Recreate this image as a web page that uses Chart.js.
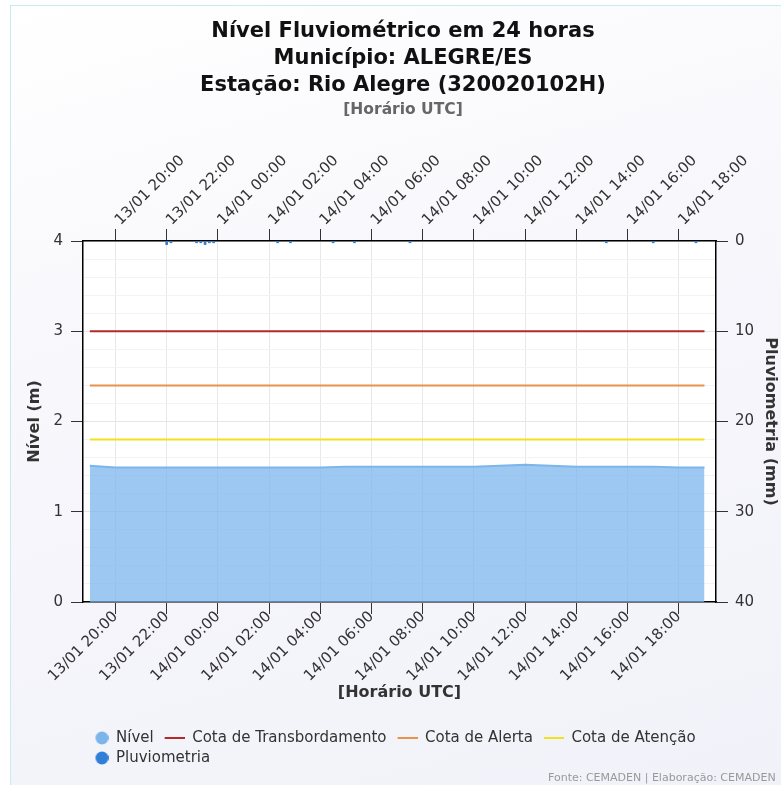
<!DOCTYPE html>
<html lang="pt-BR">
<head>
<meta charset="utf-8">
<title>Nível Fluviométrico em 24 horas</title>
<script src="https://cdn.jsdelivr.net/npm/chart.js@4.4.1/dist/chart.umd.min.js"></script>
<style>
  html, body { margin: 0; padding: 0; width: 781px; height: 785px; overflow: hidden; background: #fff; }
  #quadro {
    position: absolute; left: 10px; top: 5px; width: 784px; height: 790px;
    border-left: 1px solid #c6ecf3; border-top: 1px solid #c6ecf3;
    background: linear-gradient(165deg, #ffffff 0%, #f7f7fc 40%, #f1f1f9 100%);
  }
  #grafico { position: absolute; left: 0; top: 0; width: 784px; height: 790px; }
  #creditos {
    position: absolute; left: 537px; top: 765px; white-space: nowrap;
    font: 11px 'DejaVu Sans', sans-serif; color: #999;
  }
</style>
</head>
<body>
<div id="quadro">
  <div id="grafico"><canvas id="nivelChart"></canvas></div>
  <div id="creditos">Fonte: CEMADEN | Elaboração: CEMADEN</div>
</div>
<script>
// --- Dados (horário UTC) ---
const titulo = ['Nível Fluviométrico em 24 horas', 'Município: ALEGRE/ES', 'Estação: Rio Alegre (320020102H)'];
const subtitulo = '[Horário UTC]';

// Nível do rio (m), de hora em hora
const horasNivel = [
    '13/01 19:00', '13/01 20:00', '13/01 21:00', '13/01 22:00', '13/01 23:00',
    '14/01 00:00', '14/01 01:00', '14/01 02:00', '14/01 03:00', '14/01 04:00',
    '14/01 05:00', '14/01 06:00', '14/01 07:00', '14/01 08:00', '14/01 09:00',
    '14/01 10:00', '14/01 11:00', '14/01 12:00', '14/01 13:00', '14/01 14:00',
    '14/01 15:00', '14/01 16:00', '14/01 17:00', '14/01 18:00', '14/01 19:00'
];
const valoresNivel = [
    1.51, 1.49, 1.49, 1.49, 1.49,
    1.49, 1.49, 1.49, 1.49, 1.49,
    1.50, 1.50, 1.50, 1.50, 1.50,
    1.50, 1.51, 1.52, 1.51, 1.50,
    1.50, 1.50, 1.50, 1.49, 1.49
];

// Pluviometria (mm) - só os registros diferentes de zero
const horasChuva = [
    '13/01 22:00', '13/01 22:10', '13/01 23:10', '13/01 23:20', '13/01 23:30',
    '13/01 23:40', '13/01 23:50', '14/01 02:20', '14/01 02:50', '14/01 04:30',
    '14/01 05:20', '14/01 07:30', '14/01 15:10', '14/01 17:00', '14/01 18:40'
];
const valoresChuva = [0.4, 0.2, 0.2, 0.2, 0.4, 0.2, 0.2, 0.2, 0.2, 0.2, 0.2, 0.2, 0.2, 0.2, 0.2];

// Cotas de referência (m)
const cotaTransbordamento = 3.0;
const cotaAlerta = 2.4;
const cotaAtencao = 1.8;

// Eixos
const rotulosEixoX = [
    '13/01 20:00', '13/01 22:00', '14/01 00:00', '14/01 02:00', '14/01 04:00', '14/01 06:00',
    '14/01 08:00', '14/01 10:00', '14/01 12:00', '14/01 14:00', '14/01 16:00', '14/01 18:00'
];
const inicioEixoX = '13/01 18:44';
const fimEixoX = '14/01 19:27';
const ticksNivel = [0, 1, 2, 3, 4];
const ticksChuva = [0, 10, 20, 30, 40];

// --- Funções auxiliares ---

// Converte 'dd/mm hh:mm' em minutos contados a partir de 13/01 00:00
function paraMinutos(texto) {
    const [data, hora] = texto.split(' ');
    const dia = parseInt(data.split('/')[0], 10);
    const [h, m] = hora.split(':').map(Number);
    return (dia - 13) * 1440 + h * 60 + m;
}

function ehInteiro(v) {
    return Math.abs(v - Math.round(v)) < 1e-6;
}

// Ícones da legenda (símbolo encostado à direita da caixa)
function iconeCirculo(cor) {
    const c = document.createElement('canvas');
    c.width = 26; c.height = 14;
    const g = c.getContext('2d');
    g.fillStyle = cor;
    g.beginPath();
    g.arc(19.5, 7, 6.5, 0, Math.PI * 2);
    g.fill();
    return c;
}

function iconeLinha(cor) {
    const c = document.createElement('canvas');
    c.width = 26; c.height = 4;
    const g = c.getContext('2d');
    g.strokeStyle = cor;
    g.lineWidth = 2;
    g.beginPath();
    g.moveTo(6, 2);
    g.lineTo(26, 2);
    g.stroke();
    return c;
}

const CORES = {
    nivel: '#7cb5ec',
    nivelArea: 'rgba(124, 181, 236, 0.75)',
    transbordamento: '#b32a2a',
    alerta: '#e8924e',
    atencao: '#f0e21c',
    chuva: '#2f7ed8'
};

const icones = [
    iconeCirculo(CORES.nivel),
    iconeLinha(CORES.transbordamento),
    iconeLinha(CORES.alerta),
    iconeLinha(CORES.atencao),
    iconeCirculo(CORES.chuva)
];

// --- Montagem das séries ---
const xIni = paraMinutos(horasNivel[0]);
const xFim = paraMinutos(horasNivel[horasNivel.length - 1]);
const pontosNivel = horasNivel.map((h, i) => ({ x: paraMinutos(h), y: valoresNivel[i] }));
const pontosChuva = horasChuva.map((h, i) => ({ x: paraMinutos(h), y: valoresChuva[i] }));
const linhaCota = v => [{ x: xIni, y: v }, { x: xFim, y: v }];

// Pinta a área de plotagem de branco
const fundoBranco = {
    id: 'fundoBranco',
    beforeDraw(chart) {
        const { ctx, chartArea: a } = chart;
        ctx.save();
        ctx.fillStyle = '#ffffff';
        ctx.fillRect(a.left, a.top, a.right - a.left, a.bottom - a.top);
        ctx.restore();
    }
};

// Empurra a legenda um pouco para a esquerda (alinhamento com o original)
const ajusteLegenda = {
    id: 'ajusteLegenda',
    afterLayout(chart) {
        if (chart.legend) chart.legend.left = chart.chartArea.left - 5.5;
    }
};

const eixoXBase = {
    type: 'linear',
    offset: false,
    min: paraMinutos(inicioEixoX),
    max: paraMinutos(fimEixoX),
    afterBuildTicks: s => { s.ticks = rotulosEixoX.map(r => ({ value: paraMinutos(r) })); },
    border: { color: '#000', width: 1.5 }
};

const ticksX = {
    autoSkip: false,
    minRotation: 45,
    maxRotation: 45,
    color: '#333',
    font: { size: 15 },
    callback: v => rotulosEixoX.find(r => paraMinutos(r) === v) || ''
};

Chart.defaults.font.family = "'DejaVu Sans', sans-serif";

new Chart(document.getElementById('nivelChart'), {
    type: 'line',
    data: {
        datasets: [
            {
                label: 'Nível',
                data: pontosNivel,
                borderColor: CORES.nivel,
                backgroundColor: CORES.nivelArea,
                borderWidth: 2,
                fill: 'origin',
                pointRadius: 0,
                xAxisID: 'x',
                yAxisID: 'y'
            },
            {
                label: 'Cota de Transbordamento',
                data: linhaCota(cotaTransbordamento),
                borderColor: CORES.transbordamento,
                backgroundColor: CORES.transbordamento,
                borderWidth: 2,
                pointRadius: 0,
                xAxisID: 'x',
                yAxisID: 'y'
            },
            {
                label: 'Cota de Alerta',
                data: linhaCota(cotaAlerta),
                borderColor: CORES.alerta,
                backgroundColor: CORES.alerta,
                borderWidth: 2,
                pointRadius: 0,
                xAxisID: 'x',
                yAxisID: 'y'
            },
            {
                label: 'Cota de Atenção',
                data: linhaCota(cotaAtencao),
                borderColor: CORES.atencao,
                backgroundColor: CORES.atencao,
                borderWidth: 2,
                pointRadius: 0,
                xAxisID: 'x',
                yAxisID: 'y'
            },
            {
                type: 'bar',
                label: 'Pluviometria',
                data: pontosChuva,
                backgroundColor: CORES.chuva,
                barThickness: 2,
                xAxisID: 'x',
                yAxisID: 'y1'
            }
        ]
    },
    options: {
        responsive: true,
        maintainAspectRatio: false,
        animation: false,
        layout: { padding: { left: 0, right: 0, top: 0, bottom: 20.5 } },
        interaction: { mode: 'nearest', intersect: false },
        plugins: {
            title: {
                display: true,
                text: titulo,
                color: '#111',
                font: { size: 21, weight: 'bold', lineHeight: 27 / 21 },
                padding: { top: 12, bottom: 0 }
            },
            subtitle: {
                display: true,
                text: subtitulo,
                color: '#666',
                font: { size: 15.5, weight: 'bold', lineHeight: 18 / 15.5 },
                padding: { top: 2, bottom: 0 }
            },
            legend: {
                position: 'bottom',
                align: 'start',
                fullSize: false,
                labels: {
                    usePointStyle: true,
                    pointStyleWidth: 26,
                    boxHeight: 13,
                    padding: 5,
                    color: '#333',
                    font: { size: 15 },
                    generateLabels: chart =>
                        Chart.defaults.plugins.legend.labels.generateLabels(chart)
                            .map(item => ({ ...item, pointStyle: icones[item.datasetIndex] }))
                }
            }
        },
        scales: {
            x: {
                ...eixoXBase,
                position: 'bottom',
                ticks: { ...ticksX, padding: -6 },
                grid: { offset: false, color: '#e8e8e8', tickLength: 12, tickColor: '#333' },
                title: {
                    display: true,
                    text: '[Horário UTC]',
                    color: '#333',
                    font: { size: 16, weight: 'bold' },
                    padding: { top: 0, bottom: 23.5 }
                },
                afterFit: s => { s.height = 123.5; }
            },
            xTop: {
                ...eixoXBase,
                position: 'top',
                ticks: { ...ticksX, padding: 0, labelOffset: 15 },
                grid: { offset: false, drawOnChartArea: false, tickLength: 12, tickColor: '#333' },
                afterFit: s => { s.height = 122; }
            },
            y: {
                type: 'linear',
                position: 'left',
                min: ticksNivel[0],
                max: ticksNivel[ticksNivel.length - 1],
                ticks: {
                    stepSize: 0.2,
                    autoSkip: false,
                    maxTicksLimit: 30,
                    padding: 8,
                    color: '#333',
                    font: { size: 15 },
                    callback: v => (ehInteiro(v) && ticksNivel.includes(Math.round(v))) ? String(Math.round(v)) : ''
                },
                grid: {
                    color: c => ehInteiro(c.tick.value) ? '#e6e6e6' : '#f3f3f3',
                    tickColor: c => ehInteiro(c.tick.value) ? '#333' : 'rgba(0,0,0,0)',
                    tickLength: 12
                },
                border: { color: '#000', width: 1.5 },
                title: {
                    display: true,
                    text: 'Nível (m)',
                    color: '#333',
                    font: { size: 16, weight: 'bold' },
                    padding: { top: 14.4, bottom: 0 }
                },
                afterFit: s => { s.width = 72; }
            },
            y1: {
                type: 'linear',
                position: 'right',
                reverse: true,
                min: ticksChuva[0],
                max: ticksChuva[ticksChuva.length - 1],
                ticks: { stepSize: 10, padding: 7, color: '#333', font: { size: 15 } },
                grid: { drawOnChartArea: false, tickLength: 12, tickColor: '#333' },
                border: { color: '#000', width: 1.5 },
                title: {
                    display: true,
                    text: 'Pluviometria (mm)',
                    color: '#333',
                    font: { size: 16, weight: 'bold' },
                    padding: { top: 15.4, bottom: 0 }
                },
                afterFit: s => { s.width = 79; }
            }
        }
    },
    plugins: [fundoBranco, ajusteLegenda]
});
</script>
</body>
</html>
